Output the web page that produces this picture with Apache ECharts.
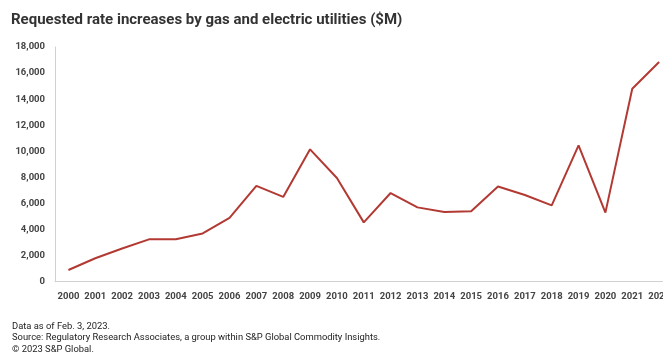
<!DOCTYPE html>
<html>
<head>
<meta charset="utf-8">
<script src="https://cdn.jsdelivr.net/npm/echarts@6/dist/echarts.min.js"></script>
<style>
html,body{margin:0;padding:0;background:#fff;overflow:hidden;width:663px;height:356px;}
#chart{width:673px;height:356px;}
</style>
</head>
<body>
<div id="chart"></div>
<script>
var years = ['2000','2001','2002','2003','2004','2005','2006','2007','2008','2009','2010','2011','2012','2013','2014','2015','2016','2017','2018','2019','2020','2021','2022'];
var requested = [900,1800,2550,3250,3250,3700,4900,7350,6500,10150,7950,4550,6800,5700,5350,5400,7300,6650,5850,10450,5300,14800,16850];
var yTicks = {min:0, max:18000, interval:2000};
var titleText = 'Requested rate increases by gas and electric utilities ($M)';
var footLines = ['Data as of Feb. 3, 2023.','Source: Regulatory Research Associates, a group within S&P Global Commodity Insights.','\u00a9 2023 S&P Global.'];

var chart = echarts.init(document.getElementById('chart'), null, {renderer:'canvas'});
var font = 'Roboto, "Liberation Sans", sans-serif';
chart.setOption({
  animation:false,
  backgroundColor:'#fff',
  title:{text:titleText,left:6,top:8,textStyle:{fontFamily:font,fontSize:15,fontWeight:'bold',color:'#333'}},
  graphic:footLines.map(function(t,i){
    return {type:'text',left:12,top:322+i*11.5,style:{text:t,fontFamily:font,fontSize:9.4,fontWeight:'normal',fill:'#222'}};
  }),
  grid:{left:55,top:47,right:0,height:234.7,containLabel:false},
  xAxis:{type:'category',data:years,boundaryGap:true,
    axisLine:{show:true,lineStyle:{color:'#d0d0d0',width:1}},
    axisTick:{show:false},
    axisLabel:{interval:0,margin:10,fontFamily:font,fontSize:9.5,fontWeight:'bold',color:'#444'}},
  yAxis:{type:'value',min:yTicks.min,max:yTicks.max,interval:yTicks.interval,
    axisLine:{show:true,lineStyle:{color:'#d0d0d0',width:1}},
    axisTick:{show:false},
    splitLine:{show:false},
    axisLabel:{margin:10,fontFamily:font,fontSize:9.5,fontWeight:'bold',color:'#444',
      formatter:function(v){return v.toLocaleString('en-US');}}},
  series:[{type:'line',data:requested,symbol:'none',lineStyle:{color:'#b23a33',width:2}}]
});
</script>
</body>
</html>
